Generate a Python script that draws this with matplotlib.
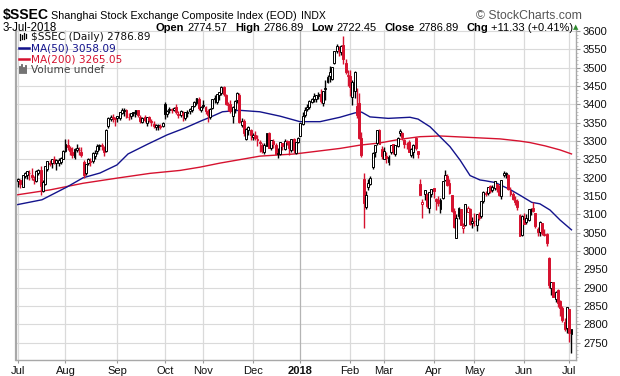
import numpy as np
import matplotlib
matplotlib.use("Agg")
import matplotlib.pyplot as plt
from matplotlib.lines import Line2D

# daily OHLC, 3-Jul-2017 .. 3-Jul-2018 (trading days only)
opens = [
    3192, 3194, 3175, 3204, 3207, 3214, 3208, 3195, 3191, 3214, 3222, 3165, 3183, 3224, 3240, 3240, 3251, 3241, 3240, 3244, 3252,
    3274, 3290, 3280, 3270, 3257, 3277, 3277, 3271, 3243, 3212, 3240, 3244, 3246, 3260, 3272, 3288, 3287, 3283, 3272, 3340, 3361, 3363, 3361,
    3363, 3363, 3378, 3381, 3384, 3365, 3368, 3376, 3373, 3384, 3366, 3352, 3366, 3350, 3365, 3355, 3346, 3339, 3341, 3342, 3341,
    3400, 3373, 3384, 3385, 3384, 3394, 3375, 3372, 3378, 3364, 3378, 3381, 3386, 3397, 3403, 3414, 3385,
    3398, 3393, 3383, 3367, 3389, 3415, 3408, 3427, 3431, 3448, 3427, 3399, 3401, 3368, 3388, 3412, 3425, 3343, 3354, 3306, 3331, 3330,
    3310, 3316, 3304, 3297, 3289, 3269, 3288, 3322, 3281, 3300, 3289, 3266, 3266, 3294, 3278, 3301, 3299, 3277, 3307, 3267, 3297,
    3314, 3347, 3371, 3387, 3392, 3406, 3414, 3415, 3423, 3429, 3403, 3443, 3460, 3478, 3470, 3512, 3547, 3546, 3542, 3563, 3512, 3478,
    3478, 3419, 3437, 3396, 3404, 3308, 3198, 3120, 3174, 3184, 3230, 3270, 3295, 3331, 3278,
    3252, 3259, 3244, 3270, 3291, 3266, 3287, 3323, 3323, 3304, 3291, 3297, 3263, 3270, 3309, 3273, 3183, 3128, 3157, 3155, 3118, 3157,
    3173, 3142, 3140, 3114, 3145, 3195, 3205, 3185, 3152, 3110, 3037, 3096, 3114, 3064, 3070, 3107, 3116, 3076,
    3082, 3072, 3100, 3095, 3136, 3156, 3158, 3178, 3167, 3171, 3182, 3172, 3150, 3207, 3209, 3207, 3163, 3155, 3140, 3136, 3098, 3045,
    3084, 3080, 3084, 3114, 3118, 3105, 3061, 3052, 3076, 3045, 3046, 2982, 2899, 2916, 2869, 2895, 2863, 2845, 2808, 2790,
    2841, 2774.57,
]
highs = [
    3199, 3196, 3207, 3216, 3219, 3222, 3228, 3205, 3220, 3225, 3231, 3193, 3231, 3245, 3248, 3251, 3259, 3252, 3253, 3256, 3276,
    3306, 3305, 3286, 3283, 3280, 3291, 3284, 3284, 3248, 3238, 3253, 3254, 3270, 3275, 3292, 3293, 3294, 3287, 3332, 3366, 3371, 3374, 3366,
    3368, 3380, 3390, 3391, 3387, 3376, 3377, 3380, 3385, 3386, 3371, 3366, 3371, 3367, 3369, 3360, 3356, 3347, 3347, 3347, 3352,
    3408, 3385, 3392, 3391, 3393, 3400, 3381, 3384, 3381, 3380, 3385, 3391, 3397, 3409, 3418, 3420, 3397,
    3411, 3396, 3387, 3389, 3414, 3426, 3429, 3435, 3450, 3449, 3428, 3408, 3413, 3396, 3411, 3433, 3430, 3364, 3360, 3335, 3342, 3332,
    3321, 3327, 3318, 3304, 3296, 3294, 3323, 3324, 3304, 3306, 3296, 3280, 3297, 3295, 3305, 3304, 3299, 3307, 3309, 3296, 3312,
    3349, 3379, 3393, 3402, 3412, 3418, 3430, 3427, 3435, 3441, 3437, 3468, 3479, 3505, 3502, 3547, 3566, 3560, 3563, 3587, 3524, 3495,
    3495, 3466, 3490, 3446, 3430, 3324, 3212, 3163, 3196, 3205, 3269, 3290, 3330, 3333, 3288,
    3283, 3270, 3262, 3290, 3293, 3290, 3310, 3333, 3324, 3305, 3297, 3303, 3282, 3291, 3310, 3273, 3198, 3142, 3166, 3158, 3160, 3170,
    3173, 3146, 3149, 3144, 3190, 3220, 3210, 3198, 3154, 3118, 3101, 3121, 3114, 3076, 3129, 3124, 3117, 3094,
    3103, 3102, 3106, 3136, 3165, 3163, 3175, 3179, 3179, 3192, 3182, 3179, 3194, 3219, 3217, 3211, 3176, 3160, 3149, 3143, 3102, 3098,
    3103, 3101, 3114, 3117, 3133, 3105, 3065, 3082, 3076, 3060, 3049, 2983, 2917, 2917, 2892, 2896, 2866, 2849, 2818, 2848,
    2842, 2786.89,
]
lows = [
    3175, 3171, 3174, 3199, 3198, 3194, 3195, 3182, 3189, 3207, 3153, 3161, 3180, 3218, 3231, 3227, 3237, 3220, 3233, 3237, 3250,
    3271, 3277, 3262, 3253, 3251, 3270, 3262, 3257, 3200, 3208, 3236, 3232, 3241, 3252, 3266, 3277, 3277, 3260, 3271, 3336, 3354, 3353, 3341,
    3351, 3357, 3374, 3369, 3364, 3358, 3359, 3369, 3366, 3367, 3350, 3349, 3353, 3341, 3352, 3341, 3335, 3330, 3331, 3334, 3338,
    3361, 3367, 3376, 3378, 3382, 3373, 3363, 3367, 3356, 3358, 3366, 3375, 3379, 3393, 3398, 3385, 3380,
    3389, 3375, 3353, 3361, 3387, 3404, 3401, 3412, 3427, 3423, 3398, 3383, 3376, 3350, 3378, 3404, 3350, 3339, 3315, 3302, 3316, 3302,
    3302, 3303, 3286, 3271, 3268, 3264, 3286, 3280, 3276, 3281, 3264, 3254, 3262, 3276, 3276, 3290, 3263, 3270, 3267, 3264, 3295,
    3314, 3345, 3365, 3381, 3387, 3403, 3406, 3406, 3416, 3403, 3396, 3411, 3459, 3461, 3468, 3510, 3540, 3533, 3536, 3510, 3483, 3450,
    3424, 3398, 3417, 3364, 3306, 3256, 3062, 3116, 3168, 3179, 3225, 3256, 3290, 3292, 3250,
    3250, 3239, 3236, 3265, 3265, 3260, 3283, 3315, 3304, 3281, 3278, 3269, 3257, 3255, 3276, 3253, 3152, 3091, 3140, 3118, 3103, 3147,
    3144, 3113, 3122, 3103, 3141, 3190, 3177, 3157, 3106, 3064, 3036, 3088, 3070, 3050, 3069, 3106, 3070, 3064,
    3068, 3055, 3085, 3089, 3131, 3150, 3153, 3159, 3162, 3168, 3160, 3151, 3141, 3202, 3200, 3167, 3151, 3139, 3125, 3111, 3041, 3041,
    3073, 3075, 3082, 3099, 3107, 3063, 3041, 3040, 3045, 3041, 3014, 2899, 2881, 2874, 2862, 2848, 2822, 2807, 2782, 2777,
    2753, 2722.45,
]
closes = [
    3195.91, 3182.80, 3207.13, 3212.44, 3217.96, 3212.63, 3203.04, 3197.54, 3218.16, 3222.42, 3176.46, 3187.57, 3230.98, 3244.86,
    3237.98, 3250.60, 3243.69, 3247.67, 3249.78, 3253.24, 3273.03,
    3292.64, 3285.06, 3272.93, 3262.08, 3279.46, 3281.87, 3275.57, 3261.75, 3208.54, 3237.36, 3251.26, 3246.45, 3268.43, 3268.72,
    3286.91, 3290.23, 3287.71, 3271.51, 3331.52, 3362.65, 3365.23, 3363.63, 3360.81,
    3367.12, 3379.58, 3384.32, 3385.39, 3365.50, 3365.24, 3376.42, 3379.49, 3384.15, 3371.43, 3353.62, 3362.86, 3356.84, 3366.00,
    3357.81, 3352.53, 3341.55, 3343.58, 3345.27, 3339.64, 3348.94,
    3374.38, 3382.99, 3388.28, 3386.10, 3390.52, 3378.47, 3372.04, 3381.79, 3370.17, 3378.65, 3380.70, 3388.25, 3396.90, 3407.57,
    3416.81, 3390.34, 3393.34,
    3395.91, 3383.31, 3371.74, 3388.17, 3413.57, 3415.46, 3427.79, 3432.67, 3447.84, 3429.55, 3402.52, 3399.25, 3382.91, 3392.40,
    3410.50, 3430.46, 3351.92, 3353.82, 3322.23, 3333.66, 3337.86, 3317.19,
    3317.62, 3309.62, 3303.68, 3293.96, 3272.05, 3289.45, 3322.20, 3280.81, 3303.04, 3292.44, 3266.14, 3267.92, 3296.54, 3287.61,
    3300.06, 3297.06, 3280.46, 3306.12, 3275.78, 3296.38, 3307.17,
    3348.33, 3369.11, 3385.71, 3391.75, 3409.48, 3413.90, 3421.83, 3425.34, 3428.94, 3410.49, 3436.59, 3444.67, 3474.75, 3487.86,
    3501.36, 3546.50, 3559.47, 3548.31, 3558.13, 3523.00, 3488.01, 3480.83,
    3446.98, 3462.08, 3487.50, 3370.65, 3309.26, 3262.05, 3129.85, 3154.13, 3184.96, 3199.16, 3268.56, 3289.02, 3329.57, 3292.07,
    3259.41,
    3273.75, 3254.53, 3256.93, 3289.64, 3271.67, 3288.41, 3307.17, 3326.70, 3310.24, 3291.38, 3291.11, 3269.88, 3279.25, 3290.64,
    3280.95, 3263.48, 3152.76, 3133.72, 3166.65, 3122.29, 3160.53, 3168.90,
    3163.18, 3136.63, 3131.11, 3138.29, 3190.32, 3208.08, 3180.16, 3159.05, 3110.65, 3066.80, 3091.40, 3117.38, 3071.54, 3068.01,
    3128.93, 3117.97, 3075.03, 3082.23,
    3081.18, 3100.86, 3091.03, 3136.64, 3161.50, 3159.15, 3174.41, 3163.26, 3174.03, 3192.12, 3169.57, 3154.28, 3193.30, 3213.84,
    3214.35, 3168.96, 3154.65, 3141.30, 3135.08, 3120.46, 3041.44, 3095.47,
    3075.14, 3091.19, 3114.21, 3115.18, 3109.50, 3067.15, 3052.78, 3079.80, 3049.80, 3044.16, 3021.90, 2907.82, 2915.73, 2875.81,
    2889.76, 2859.34, 2844.51, 2813.18, 2786.90, 2847.42,
    2775.56, 2786.89,
]
prev_close_start = 3192.43

# moving averages (trading-day position, value)
ma50_pos = [-0.9, 10.6, 21.7, 28.8, 36.3, 43.8, 48.7, 57.5, 66.0, 74.0, 81.0, 85.0, 90.5, 98.0, 107.0, 116.0,
            124.8, 133.7, 142.5, 149.2, 152.1, 155.8, 163.9, 173.5, 177.1, 182.4, 186.8, 191.2, 195.7, 200.1,
            204.5, 206.7, 211.2, 217.8, 222.3, 227.4, 231.0, 235.5, 239.9, 245.0]
ma50_val = [3126, 3140, 3175, 3200, 3213, 3235, 3265, 3292, 3317, 3336, 3355, 3365, 3380, 3384, 3380, 3368,
            3353, 3353, 3365, 3377, 3379, 3366, 3362, 3365, 3360, 3339, 3312, 3285, 3248, 3206,
            3194, 3192, 3187, 3168, 3152, 3133, 3129, 3112, 3085, 3058]
ma200_pos = [-0.9, 14.2, 28.8, 43.8, 58.4, 71.7, 80.6, 89.4, 107.1, 122.6, 130.6, 142.5, 151.4, 160.2,
             169.1, 177.9, 186.8, 200.1, 213.4, 222.2, 226.6, 233.3, 239.9, 245.0]
ma200_val = [3153, 3167, 3185, 3199, 3212, 3220, 3229, 3240, 3259, 3265, 3271, 3280, 3289, 3295,
             3305, 3312, 3314, 3310, 3306, 3300, 3296, 3287, 3276, 3265]

month_pos = [0, 21, 44, 65, 82, 104, 125, 147, 162, 184, 202, 224, 244]
month_labels = ["Jul", "Aug", "Sep", "Oct", "Nov", "Dec", "2018", "Feb", "Mar", "Apr", "May", "Jun", "Jul"]

RED = "#d6122f"
NAVY = "#13138c"
GRID = "#dadada"
W, H = 620, 376
SANS = ["Liberation Sans", "DejaVu Sans"]


def put(x, y, s, **kw):
    return fig.text(x / W, 1 - y / H, s, **kw)


def fit(t, target):
    # shrink a text until it spans no more than target pixels
    w = t.get_window_extent(r).width
    if w > target:
        t.set_fontsize(t.get_fontsize() * target / w)
    return t


fig = plt.figure(figsize=(W / 100, H / 100), dpi=100)
r = fig.canvas.get_renderer()
ax = fig.add_axes([16 / W, 1 - 360 / H, 560 / W, 330 / H])

o = np.array(opens)
h = np.array(highs)
l = np.array(lows)
c = np.array(closes)
idx = np.arange(len(c))
prev = np.r_[prev_close_start, c[:-1]]
col = np.where(c >= prev, "black", RED)
face = np.where(c > o, "white", col)

# grid
for y in range(2750, 3601, 50):
    ax.axhline(y, color=GRID, lw=0.8, zorder=0)
for p, lab in zip(month_pos, month_labels):
    ax.axvline(p, color="#b4b4b4" if lab == "2018" else GRID, lw=0.9, zorder=0)

ax.plot(ma200_pos, ma200_val, color=RED, lw=1.0, zorder=2)
ax.plot(ma50_pos, ma50_val, color=NAVY, lw=1.0, zorder=2)

ax.vlines(idx, np.minimum(l, np.minimum(o, c)), np.maximum(h, np.maximum(o, c)),
          colors=col, lw=1.0, zorder=3)
ax.bar(idx, np.maximum(np.abs(c - o), 1.5), bottom=np.minimum(o, c), width=0.85,
       color=face, edgecolor=col, linewidth=0.7, zorder=4)

ax.set_xlim(-0.9, 247)
ax.set_ylim(2703, 3603)
ax.yaxis.tick_right()
ax.set_yticks(range(2750, 3601, 50))
ax.set_yticks(range(2710, 3601, 10), minor=True)
ax.tick_params(axis="y", which="major", length=3, width=0.8, color="#999999", pad=2,
               labelsize=8, labelcolor="#111111")
ax.tick_params(axis="y", which="minor", length=1.5, width=0.6, color="#bbbbbb")
for t in ax.get_yticklabels():
    t.set_family(SANS)
ax.set_xticks(month_pos)
ax.set_xticklabels(month_labels, family=SANS, fontsize=8, color="#111111")
ax.get_xticklabels()[6].set_weight("bold")
ax.tick_params(axis="x", length=2, width=0.8, color="#999999", pad=2)
for s in ["left", "right", "bottom"]:
    ax.spines[s].set_color("#a8a8a8")
    ax.spines[s].set_linewidth(1.0)
ax.spines["left"].set_linewidth(1.6)
ax.spines["top"].set_visible(False)

# header
fit(put(3, 19, "$SSEC", family=SANS, weight="bold", fontsize=11.5), 46)
fit(put(51, 19, "Shanghai Stock Exchange Composite Index (EOD)", family=SANS, fontsize=9), 243)
fit(put(301, 19, "INDX", family=SANS, fontsize=7.5), 25)
put(582, 19, "\u00a9 StockCharts.com", family=SANS, fontsize=8.8, color="#555555", ha="right")
put(3, 31, "3-Jul-2018", family=SANS, fontsize=8.3)

pairs = [("Open", "2774.57"), ("High", "2786.89"), ("Low", "2722.45"),
         ("Close", "2786.89"), ("Chg", "+11.33 (+0.41%)")]


def layout(size):
    x = 156
    made = []
    for lab, val in pairs:
        t = put(x, 31, lab, family=SANS, fontsize=size, weight="bold")
        made.append(t)
        x += t.get_window_extent(r).width + 3
        t = put(x, 31, val, family=SANS, fontsize=size)
        made.append(t)
        x += t.get_window_extent(r).width + 8
    return made, x - 8


made, end = layout(8.4)
if end > 569:
    for t in made:
        t.remove()
    made, end = layout(8.4 * (569 - 156) / (end - 156))
put(573, 29, "\u25b2", family="DejaVu Sans", fontsize=5, color="#2e8b2e")

# legend
legend_font = dict(family="DejaVu Sans", fontsize=7.6)
put(31, 40.5, "$SSEC (Daily) 2786.89", color="#111111", **legend_font)
put(31, 51.5, "MA(50) 3058.09", color=NAVY, **legend_font)
put(31, 62.5, "MA(200) 3265.05", color=RED, **legend_font)
put(31, 73, "Volume undef", color="#444444", **legend_font)
for xx, y0, y1 in [(20, 34, 40), (22, 35, 39), (24, 33, 39), (26, 34, 38)]:
    fig.add_artist(Line2D([xx / W] * 2, [1 - y0 / H, 1 - y1 / H], color="black", lw=0.9))
fig.add_artist(Line2D([19 / W, 29 / W], [1 - 47.5 / H] * 2, color=NAVY, lw=1.8))
fig.add_artist(Line2D([19 / W, 29 / W], [1 - 58.5 / H] * 2, color=RED, lw=1.8))
for xx, y0 in [(20, 67), (22, 65), (24, 68), (26, 66)]:
    fig.add_artist(Line2D([xx / W] * 2, [1 - y0 / H, 1 - 72.5 / H], color="#666666", lw=1.3))

fig.savefig("out.png", dpi=100)
